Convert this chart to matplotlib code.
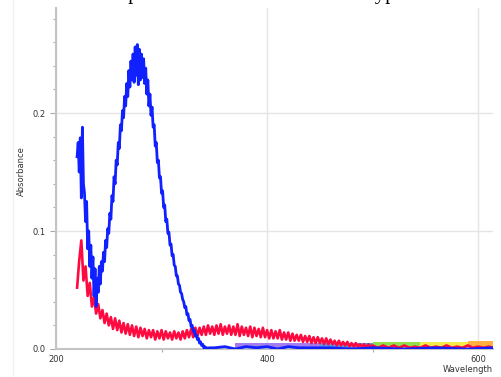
import numpy as np
import matplotlib
matplotlib.use("Agg")
from matplotlib import pyplot as plt
from matplotlib.lines import Line2D

# blue series, 1 nm steps 220..345 then a sparse flat tail
blue_wl_main = np.arange(220, 346)
blue_main = [0.163, 0.175, 0.150, 0.179, 0.128, 0.188, 0.140, 0.132, 0.108, 0.125,
             0.085, 0.100, 0.070, 0.088, 0.060, 0.078, 0.045, 0.068, 0.036, 0.060,
             0.048, 0.070, 0.055, 0.074, 0.066, 0.082, 0.074, 0.092, 0.086, 0.102,
             0.098, 0.115, 0.110, 0.130, 0.125, 0.146, 0.140, 0.160, 0.156, 0.175,
             0.170, 0.190, 0.185, 0.202, 0.196, 0.214, 0.206, 0.225, 0.214, 0.236,
             0.222, 0.244, 0.228, 0.250, 0.226, 0.256, 0.232, 0.258, 0.224, 0.254,
             0.228, 0.250, 0.230, 0.246, 0.225, 0.238, 0.216, 0.228, 0.206, 0.216,
             0.198, 0.205, 0.188, 0.190, 0.172, 0.175, 0.158, 0.160, 0.145, 0.146,
             0.132, 0.134, 0.120, 0.122, 0.108, 0.110, 0.098, 0.099, 0.088, 0.089,
             0.079, 0.080, 0.071, 0.070, 0.062, 0.062, 0.055, 0.054, 0.048, 0.047,
             0.042, 0.040, 0.035, 0.036, 0.029, 0.030, 0.024, 0.025, 0.019, 0.020,
             0.015, 0.016, 0.011, 0.012, 0.008, 0.009, 0.005, 0.006, 0.003, 0.004,
             0.001, 0.002, 0.000, 0.001, 0.000, 0.001]
blue_wl_tail = [350, 360, 370, 380, 390, 400, 410, 420, 430, 440, 460, 480, 500, 530, 560, 590, 614]
blue_tail = [0.001, 0.002, 0.000, 0.002, 0.001, 0.002, 0.000, 0.002, 0.001, 0.001,
             0.001, 0.000, 0.001, 0.000, 0.001, 0.000, 0.001]

# red series, 2 nm steps 220..500 then 5 nm steps
red_wl_main = np.arange(220, 502, 2)
red_main = [0.052, 0.075, 0.092, 0.058, 0.070, 0.045, 0.056, 0.036, 0.044, 0.030,
            0.038, 0.026, 0.033, 0.022, 0.030, 0.020, 0.027, 0.017, 0.026, 0.016,
            0.024, 0.014, 0.022, 0.013, 0.021, 0.012, 0.020, 0.011, 0.019, 0.010,
            0.018, 0.011, 0.017, 0.009, 0.016, 0.010, 0.016, 0.008, 0.015, 0.009,
            0.016, 0.008, 0.015, 0.009, 0.014, 0.008, 0.015, 0.009, 0.014, 0.008,
            0.015, 0.009, 0.016, 0.010, 0.017, 0.010, 0.018, 0.011, 0.018, 0.012,
            0.019, 0.012, 0.020, 0.013, 0.019, 0.012, 0.020, 0.013, 0.021, 0.012,
            0.019, 0.013, 0.020, 0.012, 0.019, 0.012, 0.021, 0.011, 0.019, 0.012,
            0.018, 0.011, 0.019, 0.010, 0.018, 0.011, 0.017, 0.010, 0.018, 0.010,
            0.016, 0.009, 0.016, 0.009, 0.015, 0.009, 0.016, 0.008, 0.014, 0.008,
            0.014, 0.007, 0.013, 0.007, 0.012, 0.007, 0.012, 0.006, 0.011, 0.006,
            0.011, 0.005, 0.010, 0.005, 0.010, 0.005, 0.009, 0.004, 0.009, 0.004,
            0.008, 0.004, 0.007, 0.003, 0.007, 0.003, 0.006, 0.003, 0.006, 0.002,
            0.005, 0.002, 0.005, 0.002, 0.004, 0.002, 0.004, 0.001, 0.004, 0.002,
            0.003]
red_wl_tail = [505, 510, 515, 520, 525, 530, 535, 540, 545, 550, 555, 560, 565,
               570, 575, 580, 585, 590, 595, 600, 605, 610, 614]
red_tail = [0.001, 0.003, 0.001, 0.003, 0.001, 0.003, 0.001, 0.002, 0.001, 0.003,
            0.001, 0.002, 0.001, 0.003, 0.001, 0.002, 0.001, 0.003, 0.001, 0.002,
            0.001, 0.002, 0.001]

# coloured strip along the baseline
band_edges = [370, 450, 500, 545, 590, 614]
band_heights = [0.005, 0.005, 0.006, 0.006, 0.007]
band_colors = ['#a27cf0', '#4aa0f0', '#8fe04a', '#f4ec4a', '#ffb040']

blue_wl = np.concatenate([blue_wl_main, blue_wl_tail])
blue_y = np.concatenate([blue_main, blue_tail])
red_wl = np.concatenate([red_wl_main, red_wl_tail])
red_y = np.concatenate([red_main, red_tail])

fig = plt.figure(figsize=(5.02, 3.77), dpi=100)
ax = fig.add_axes([56/502, 1-349/377, 437/502, 341/377])

for i in range(len(band_colors)):
    ax.fill_between([band_edges[i], band_edges[i+1]], 0, band_heights[i],
                    color=band_colors[i], lw=0, zorder=2)

ax.plot(red_wl, red_y, color='#ff0a40', lw=1.9, zorder=3)
ax.plot(blue_wl, blue_y, color='#1020ff', lw=2.0, zorder=4)

ax.set_xlim(200, 614)
ax.set_ylim(0, 0.289)
ax.set_xticks([200, 400, 600])
ax.set_xticks([300, 500], minor=True)
ax.set_yticks([0.0, 0.1, 0.2])
ax.set_yticks(np.arange(0.02, 0.29, 0.02), minor=True)
ax.set_yticklabels(['0.0', '0.1', '0.2'])
ax.grid(True, which='major', color='#e4e4e4', lw=1)
ax.set_axisbelow(True)
for s in ['top', 'right']:
    ax.spines[s].set_visible(False)
for s in ['left', 'bottom']:
    ax.spines[s].set_color('#c4c4c4')
    ax.spines[s].set_linewidth(1.5)
ax.tick_params(which='both', colors='#aaaaaa', labelcolor='#333333', labelsize=6, width=0.8)
ax.tick_params(axis='y', which='major', length=4)
ax.tick_params(axis='y', which='minor', length=2.5)
ax.tick_params(axis='x', which='major', length=0, pad=4)
ax.tick_params(axis='x', which='minor', length=2.5)

fig.text(21/502, 1-171/377, 'Absorbance', rotation=90, ha='center', va='center',
         fontsize=6, color='#333333')
fig.text(493/502, 1-370/377, 'Wavelength', ha='right', va='center',
         fontsize=6, color='#333333')

# faint panel border on the left
fig.add_artist(Line2D([13/502, 13/502], [0, 1], color='#f0f0f0', lw=1))

# cut-off heading at the top
fig.text(15/502, 1+1/377, 'Absorbance spectra of all of the molecule types in the',
         family='Liberation Serif', fontsize=15, va='baseline', ha='left', color='black')

fig.savefig('out.png', dpi=100)
